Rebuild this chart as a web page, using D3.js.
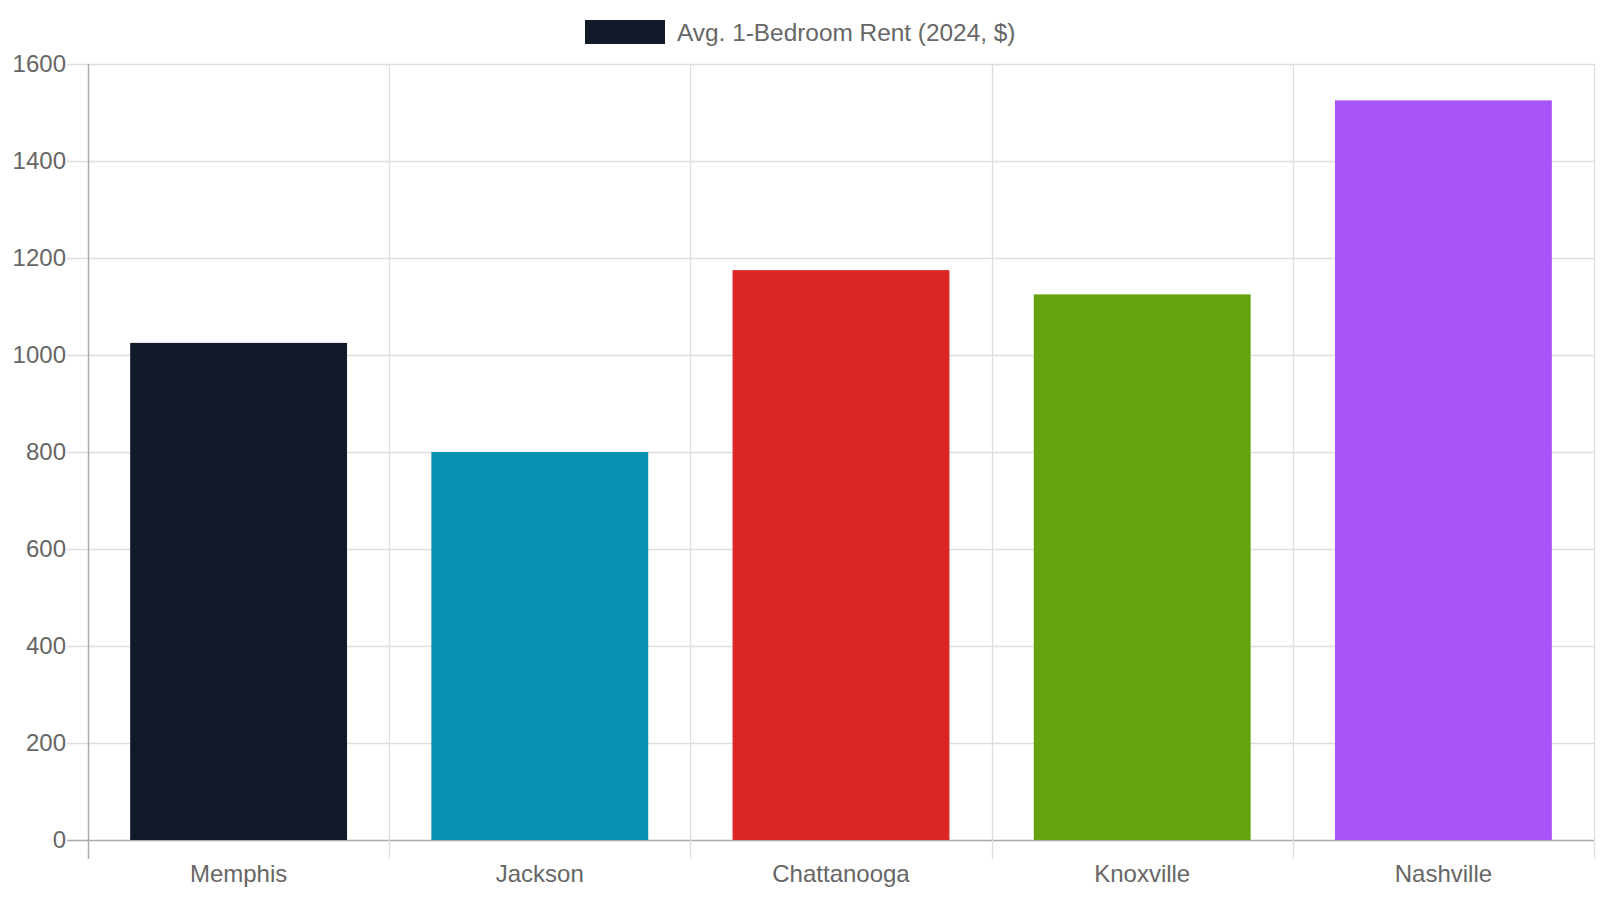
<!DOCTYPE html>
<html>
<head>
<meta charset="utf-8">
<script src="https://cdn.jsdelivr.net/npm/d3@7"></script>
<style>
  body { margin: 0; background: #fff; }
  #chart { width: 1600px; height: 900px; }
  text { font-family: "Liberation Sans", Arial, sans-serif; fill: #666; }
</style>
</head>
<body>
<div id="chart"></div>
<script>
// chart data
const cities = ["Memphis", "Jackson", "Chattanooga", "Knoxville", "Nashville"];
const rents = [1025, 800, 1175, 1125, 1525];
const barColors = ["#111827", "#0891b2", "#dc2626", "#65a30d", "#a855f7"];
const yTicks = [0, 200, 400, 600, 800, 1000, 1200, 1400, 1600];
const seriesLabel = "Avg. 1-Bedroom Rent (2024, $)";

const width = 1600, height = 900;
const margin = { top: 64, right: 6, bottom: 60, left: 88 };
const innerW = width - margin.left - margin.right;
const innerH = height - margin.top - margin.bottom;

const svg = d3.select("#chart")
    .append("svg")
    .attr("width", width)
    .attr("height", height);

const g = svg.append("g")
    .attr("transform", `translate(${margin.left},${margin.top})`);

const x = d3.scaleBand()
    .domain(cities)
    .range([0, innerW]);

const y = d3.scaleLinear()
    .domain([0, 1600])
    .range([innerH, 0]);

// horizontal grid (extends left as tick marks)
g.selectAll("line.h-grid")
    .data(yTicks)
    .enter()
    .append("line")
    .attr("class", "h-grid")
    .attr("x1", -21)
    .attr("x2", innerW)
    .attr("y1", d => Math.round(y(d)) + 0.5)
    .attr("y2", d => Math.round(y(d)) + 0.5)
    .style("stroke", d => d === 0 ? "#aaa" : "#dedede")
    .style("stroke-width", d => d === 0 ? 1.5 : 1.3);

// vertical grid at category boundaries
const bounds = cities.map(c => x(c)).concat([innerW]);
g.selectAll("line.v-grid")
    .data(bounds)
    .enter()
    .append("line")
    .attr("class", "v-grid")
    .attr("x1", d => Math.round(d) + 0.5)
    .attr("x2", d => Math.round(d) + 0.5)
    .attr("y1", 0)
    .attr("y2", innerH + 19)
    .style("stroke", (d, i) => i === 0 ? "#aaa" : "#dedede")
    .style("stroke-width", (d, i) => i === 0 ? 1.5 : 1.3);

// y tick labels
g.selectAll("text.y-label")
    .data(yTicks)
    .enter()
    .append("text")
    .attr("class", "y-label")
    .attr("x", -22)
    .attr("y", d => y(d))
    .attr("dy", "0.35em")
    .attr("text-anchor", "end")
    .style("font-size", "24px")
    .text(d => d);

// x labels
g.selectAll("text.x-label")
    .data(cities)
    .enter()
    .append("text")
    .attr("class", "x-label")
    .attr("x", d => x(d) + x.bandwidth() / 2)
    .attr("y", innerH + 34)
    .attr("dy", "0.35em")
    .attr("text-anchor", "middle")
    .style("font-size", "24px")
    .text(d => d);

// bars: 0.9 category * 0.8 bar like chart.js
const barW = x.bandwidth() * 0.72;
g.selectAll("rect.bar")
    .data(rents)
    .enter()
    .append("rect")
    .attr("class", "bar")
    .attr("x", (d, i) => x(cities[i]) + (x.bandwidth() - barW) / 2)
    .attr("y", d => y(d))
    .attr("width", barW)
    .attr("height", d => innerH - y(d))
    .attr("fill", (d, i) => barColors[i]);

// legend
const legend = svg.append("g")
    .attr("transform", "translate(585,20)");
legend.append("rect")
    .attr("width", 80)
    .attr("height", 24)
    .attr("fill", barColors[0]);
legend.append("text")
    .attr("x", 92)
    .attr("y", 12)
    .attr("dy", "0.35em")
    .style("font-size", "24.4px")
    .text(seriesLabel);
</script>
</body>
</html>
